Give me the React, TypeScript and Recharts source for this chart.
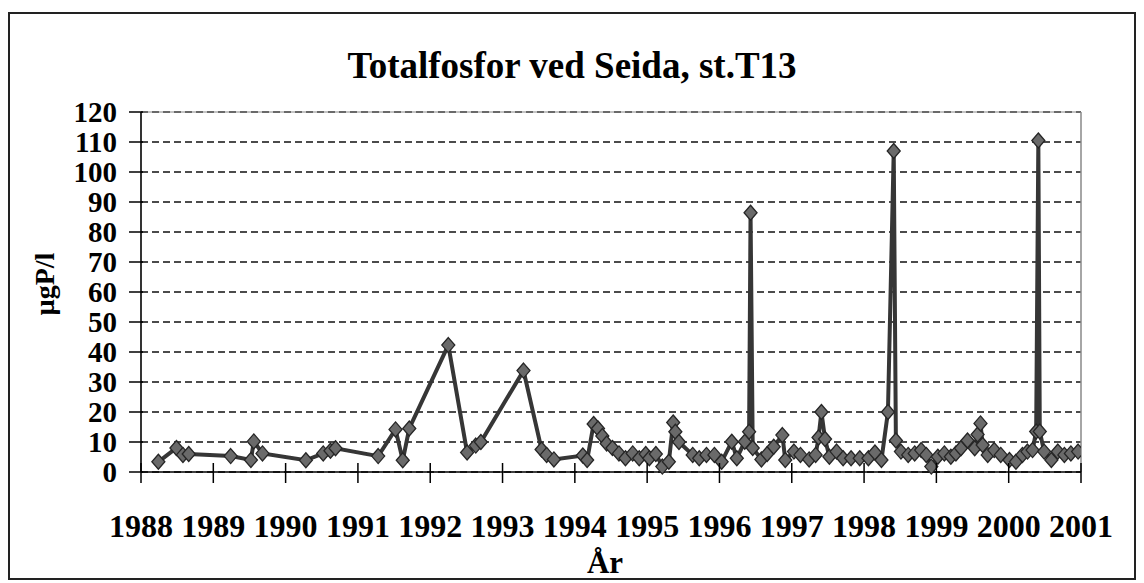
import React from "react";
import { LineChart, Line, XAxis, YAxis, CartesianGrid, ReferenceLine } from "recharts";

// Sampling dates (decimal years) and total phosphorus (µgP/l)
const sampleYears: number[] = [
  1988.24, 1988.49, 1988.58, 1988.66, 1989.24, 1989.52, 1989.56, 1989.68,
  1990.28, 1990.52, 1990.62, 1990.69, 1991.28, 1991.52, 1991.62, 1991.71,
  1992.25, 1992.51, 1992.63, 1992.7, 1993.29, 1993.54, 1993.61, 1993.71,
  1994.11, 1994.17, 1994.26, 1994.32, 1994.38, 1994.44, 1994.52, 1994.61,
  1994.7, 1994.8, 1994.89, 1994.98, 1995.03, 1995.12, 1995.21, 1995.3,
  1995.36, 1995.39, 1995.44, 1995.63, 1995.72, 1995.82, 1995.93, 1996.03,
  1996.17, 1996.24, 1996.35, 1996.41, 1996.43, 1996.46, 1996.58, 1996.66,
  1996.75, 1996.87, 1996.91, 1997.03, 1997.12, 1997.24, 1997.33, 1997.37,
  1997.41, 1997.46, 1997.52, 1997.62, 1997.71, 1997.82, 1997.94, 1998.06,
  1998.15, 1998.24, 1998.33, 1998.41, 1998.44, 1998.51, 1998.61, 1998.7,
  1998.79, 1998.86, 1998.93, 1999.02, 1999.11, 1999.2, 1999.27, 1999.34,
  1999.43, 1999.53, 1999.57, 1999.61, 1999.64, 1999.71, 1999.8, 1999.89,
  2000.01, 2000.1, 2000.19, 2000.26, 2000.33, 2000.38, 2000.41, 2000.43,
  2000.49, 2000.59, 2000.68, 2000.77, 2000.86, 2000.96,
];

const totalP: number[] = [
  3.4, 8.0, 5.7, 6.0, 5.3, 4.0, 10.2, 6.2,
  3.9, 6.2, 7.1, 7.9, 5.3, 14.2, 3.9, 14.5,
  42.3, 6.5, 8.8, 10.0, 33.8, 7.5, 5.7, 4.2,
  5.5, 4.0, 16.0, 14.5, 12.0, 9.5, 8.0, 6.2,
  4.6, 6.2, 4.6, 6.0, 4.6, 6.0, 1.8, 3.4,
  16.5, 13.4, 10.0, 5.7, 4.6, 5.7, 5.7, 3.4,
  10.1, 4.6, 10.1, 13.4, 86.4, 8.0, 4.2, 6.0,
  8.4, 12.3, 4.0, 6.8, 5.7, 4.2, 5.7, 11.5,
  20.0, 11.0, 5.1, 6.8, 4.6, 4.6, 4.6, 4.6,
  6.5, 4.0, 20.0, 107.0, 10.5, 6.8, 5.7, 6.2,
  7.3, 5.7, 1.8, 5.1, 6.2, 5.1, 6.2, 7.9,
  10.5, 7.9, 12.5, 16.2, 9.0, 5.7, 7.3, 5.7,
  4.0, 3.4, 5.7, 6.8, 7.3, 13.5, 110.5, 13.5,
  6.8, 4.0, 6.8, 5.7, 6.2, 6.8,
];

const yearTicks: number[] = [1988, 1989, 1990, 1991, 1992, 1993, 1994, 1995, 1996, 1997, 1998, 1999, 2000, 2001];
const valueTicks: number[] = [0, 10, 20, 30, 40, 50, 60, 70, 80, 90, 100, 110, 120];

const titleText = "Totalfosfor ved Seida, st.T13";
const xAxisTitle = "År";
const yAxisTitle = "µgP/l";

const data = sampleYears.map((t, i) => ({ t, p: totalP[i] }));

const FONT = "'Liberation Serif', 'Times New Roman', serif";

const XTick = (props: any) => {
  const { x, y, payload } = props;
  return (
    <g>
      <line x1={x} x2={x} y1={y - 9} y2={y + 11} stroke="#000" strokeWidth={1.5} />
      <text x={x} y={y + 65} textAnchor="middle" fontFamily={FONT} fontWeight="bold" fontSize={32} fill="#000">
        {payload.value}
      </text>
    </g>
  );
};

const YTick = (props: any) => {
  const { x, y, payload } = props;
  return (
    <g>
      <line x1={x - 12} x2={x + 2} y1={y} y2={y} stroke="#000" strokeWidth={1.5} />
      <text x={x - 24} y={y} dy="0.36em" textAnchor="end" fontFamily={FONT} fontWeight="bold" fontSize={29} fill="#000">
        {payload.value}
      </text>
    </g>
  );
};

const Diamond = (props: any) => {
  const { cx, cy, index } = props;
  if (cx == null || cy == null) return <g key={`d${index}`} />;
  return (
    <path
      key={`d${index}`}
      d={`M${cx},${cy - 7.5} L${cx + 6.5},${cy} L${cx},${cy + 7.5} L${cx - 6.5},${cy} Z`}
      fill="#6a6a6a"
      stroke="#262626"
      strokeWidth={1.3}
    />
  );
};

export default function App() {
  return (
    <div style={{ position: "relative", width: 1128, height: 572, fontFamily: FONT }}>
      <div
        style={{
          position: "absolute",
          left: 0,
          top: 4,
          width: 1128,
          height: 568,
          border: "2px solid #222",
          boxSizing: "border-box",
        }}
      />
      <div
        style={{
          position: "absolute",
          left: 264,
          top: 37,
          width: 600,
          textAlign: "center",
          fontSize: 37,
          fontWeight: "bold",
          lineHeight: "41px",
          color: "#000",
        }}
      >
        {titleText}
      </div>
      <div
        style={{
          position: "absolute",
          left: 37 - 60,
          top: 276 - 16,
          width: 120,
          height: 32,
          textAlign: "center",
          fontSize: 28,
          fontWeight: "bold",
          lineHeight: "32px",
          transform: "rotate(-90deg)",
          color: "#000",
        }}
      >
        {yAxisTitle}
      </div>
      <div
        style={{
          position: "absolute",
          left: 597 - 50,
          top: 540,
          width: 100,
          textAlign: "center",
          fontSize: 31,
          fontWeight: "bold",
          lineHeight: "30px",
          color: "#000",
        }}
      >
        {xAxisTitle}
      </div>
      <div style={{ position: "absolute", left: 0, top: 0 }}>
        <LineChart width={1128} height={567} data={data} margin={{ top: 104, right: 55, bottom: 33, left: 73 }}>
          <CartesianGrid vertical={false} stroke="#111" strokeDasharray="7 4" strokeWidth={1.3} />
          <ReferenceLine y={120} stroke="#888" strokeWidth={1} />
          <ReferenceLine x={2001} stroke="#888" strokeWidth={1.5} />
          <XAxis
            type="number"
            dataKey="t"
            domain={[1988, 2001]}
            ticks={yearTicks}
            interval={0}
            tickLine={false}
            tickSize={0}
            tickMargin={0}
            height={70}
            axisLine={{ stroke: "#000", strokeWidth: 1.6 }}
            tick={<XTick />}
            allowDataOverflow
          />
          <YAxis
            type="number"
            domain={[0, 120]}
            ticks={valueTicks}
            interval={0}
            tickLine={false}
            tickSize={0}
            tickMargin={0}
            width={60}
            axisLine={{ stroke: "#000", strokeWidth: 1.6 }}
            tick={<YTick />}
          />
          <Line
            type="linear"
            dataKey="p"
            stroke="#363636"
            strokeWidth={4}
            dot={(p: any) => <Diamond {...p} />}
            activeDot={false}
            isAnimationActive={false}
          />
        </LineChart>
      </div>
    </div>
  );
}
